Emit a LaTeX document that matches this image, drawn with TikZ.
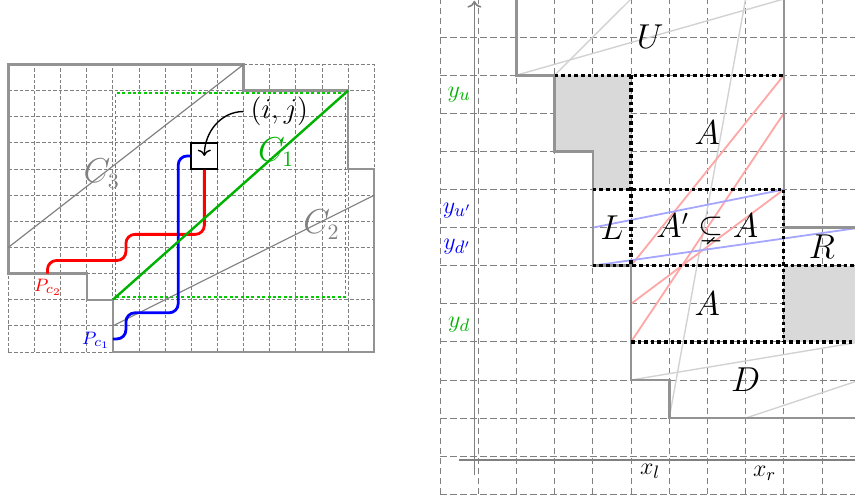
\documentclass[tikz,border=0pt]{standalone}
\usepackage{amsmath}
\usepackage{amssymb}
\usepackage{tikz}
\usetikzlibrary{arrows.meta}

\begin{document}
\begin{tikzpicture}[ >=To, gridline/.style={ gray, line width=0.4pt, dash
        pattern=on 1.8pt off 1pt }, wgrid/.style={ gray, line width=0.5pt,
        dash pattern=on 3.3pt off 1.7pt }, border/.style={ gray!85, line
        width=1.2pt }, route/.style={ line width=1.4pt, rounded corners=4.5pt },
        region/.style={ black, line width=1.6pt, dash pattern=on 1.8pt off
        1.5pt }, faint/.style={ gray!35, line width=0.7pt },
        curve/.style={ gray, line width=0.6pt }, big/.style={
        font=\fontsize{16}{19}\selectfont }, mid/.style={
        font=\fontsize{12.5}{15}\selectfont }, small/.style={
        font=\fontsize{9.5}{11}\selectfont } ]

    \useasboundingbox (0,0) rectangle (427.5pt,-249pt);

    \begin{scope}[shift={(4.15pt,-176pt)}, x=13.07pt, y=13.07pt]
    \draw[gridline, step=1] (0,0) grid (14,11);
    \draw[border] (0,11) -- (9,11) -- (9,10) -- (13,10) -- (13,7) -- (14,7)
    -- (14,0) -- (4,0) -- (4,2) -- (3,2) -- (3,3) -- (0,3) -- cycle;
    \draw[green!80!black, line width=0.9pt, dash pattern=on 1.5pt off 1.2pt]
    (4.1,2.1) rectangle (12.9,9.9);
    \draw[curve] (0,4) -- (9,11); \draw[curve] (4,1) -- (14,6);

    \node[draw, line width=0.9pt, minimum size=13.07pt, inner sep=0pt] (cell)
    at (7.5,7.5) {};
    \draw[route, red] (1.5,3) -- (1.5,3.5) -- (4.5,3.5) -- (4.5,4.5) --
    (7.5,4.5) -- (cell.south);
    \draw[route, blue] (4,0.5) -- (4.5,0.5) -- (4.5,1.5) -- (6.5,1.5) --
    (6.5,7.5) -- (cell.west);
    \draw[green!70!black, line width=1.2pt] (4,2) -- (13,10);

    \node[big, green!70!black] (cone) at (10.25,7.65) {$C_1$};
    \node[big, gray] (ctwo) at (11.98,4.87) {$C_2$};
    \node[big, gray] (cthree) at (3.57,6.82) {$C_3$};
    \node[small, red] (ptwo) at (1.52,2.49) {$P_{c_2}$};
    \node[small, blue] (pone) at (3.36,0.46) {$P_{c_1}$};
    \node[font=\fontsize{13.5}{16}\selectfont] (ij) at (10.37,9.2) {$(i,j)$};
    \draw[->, line width=0.7pt] (ij.west) to[out=180, in=90] (cell.center);
    \end{scope}

    \begin{scope}[shift={(220pt,-247.15pt)}, x=19.1pt, y=19.05pt]
    \clip (-0.2,-0.3) rectangle (10.864,13.1);
    \draw[wgrid, step=1] (0,0) grid (12,13);
    \fill[gray!30] (3,11) -- (5,11) -- (5,8) -- (4,8) -- (4,9) -- (3,9) --
    cycle;
    \fill[gray!30] (9,4) rectangle (12,6);

    \draw[faint] (2,11) -- (9,13); \draw[faint] (3,11) -- (5,13);
    \draw[faint] (6,2) -- (8,13); \draw[faint] (5,3) -- (11,4);
    \draw[faint] (8,2) -- (11,3);
    \draw[red!35, line width=0.9pt] (9,11) -- (5,6);
    \draw[red!35, line width=0.9pt] (9,10) -- (5,4);
    \draw[red!35, line width=0.9pt] (9,8) -- (5,5);
    \draw[blue!35, line width=0.9pt] (4,7) -- (9,8);
    \draw[blue!35, line width=0.9pt] (4,6) -- (11,7);

    \draw[border, line width=1.3pt] (2,13) -- (9,13) -- (9,7) -- (12,7) --
    (12,2) -- (6,2) -- (6,3) -- (5,3) -- (5,6) -- (4,6) -- (4,9) -- (3,9)
    -- (3,11) -- (2,11) -- cycle;

    \draw[region] (3,11) -- (9,11); \draw[region] (5,11) -- (5,6);
    \draw[region] (4,8) -- (9,8); \draw[region] (4,6) -- (12,6);
    \draw[region] (9,8) -- (9,4); \draw[region] (5,4) -- (12,4);

    \draw[->, gray, line width=0.8pt] (0.9,0.5) -- (0.9,12.95);
    \draw[gray, line width=0.8pt] (0.5,0.9) -- (12,0.9);

    \node[big] (up) at (5.5,12) {$U$};
    \node[big] (atop) at (7,9.5) {$A$};
    \node[big] (left) at (4.5,7) {$L$};
    \node[big] (amid) at (7,7) {$A' \subsetneq A$};
    \node[big] (right) at (10,6.5) {$R$};
    \node[big] (abot) at (7,5) {$A$};
    \node[big] (down) at (8,3) {$D$};
    \node[mid] (xl) at (5.5,0.6) {$x_l$};
    \node[mid] (xr) at (8.5,0.55) {$x_r$};
    \node[mid, green!70!black] (yu) at (0.5,10.5) {$y_u$};
    \node[mid, blue] (yup) at (0.45,7.45) {$y_{u'}$};
    \node[mid, blue] (ydp) at (0.45,6.5) {$y_{d'}$};
    \node[mid, green!70!black] (yd) at (0.5,4.45) {$y_d$};
    \end{scope}

  \end{tikzpicture}
\end{document}
